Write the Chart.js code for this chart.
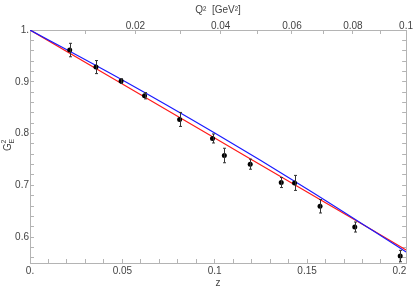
<!DOCTYPE html>
<html>
<head>
<meta charset="utf-8">
<script src="https://cdn.jsdelivr.net/npm/chart.js@4"></script>
<style>
  html, body { margin: 0; padding: 0; background: #fff; }
  #wrap { width: 415px; height: 290px; }
</style>
</head>
<body>
<div id="wrap"><canvas id="chart" width="415" height="290"></canvas></div>
<script>
// measured points (z, G_E^2, error)
const zVals = [0.0215, 0.0357, 0.0493, 0.062, 0.081, 0.0988, 0.1052, 0.1192, 0.136, 0.1432, 0.157, 0.1758, 0.2004];
const gVals = [0.9613, 0.9284, 0.9014, 0.873, 0.8273, 0.7905, 0.7576, 0.7408, 0.7054, 0.7047, 0.6596, 0.6195, 0.5634];
const gErr = [0.013, 0.0126, 0.0045, 0.006, 0.0135, 0.0087, 0.014, 0.0097, 0.0097, 0.0145, 0.013, 0.0097, 0.011];

// fit curves
const fitZ = [0, 0.05, 0.1, 0.15, 0.2036];
const blueFit = [1, 0.9033, 0.8009, 0.6931, 0.5714];
const redFit = [1, 0.8957, 0.7914, 0.6871, 0.5753];

// axes
const xMajor = [0, 0.05, 0.1, 0.15, 0.2];
const xLabels = ["0.", "0.05", "0.1", "0.15", "0.2"];
const xMinorStep = 0.01;
const yMajor = [0.6, 0.7, 0.8, 0.9, 1.0];
const yLabels = ["0.6", "0.7", "0.8", "0.9", "1."];
const yMinorStep = 0.02;
const q2Ticks = [0.01, 0.02, 0.03, 0.04, 0.05, 0.06, 0.07, 0.08, 0.09, 0.1];
const q2Labels = ["", "0.02", "", "0.04", "", "0.06", "", "0.08", "", "0.1"];

const X_MIN = 0, X_MAX = 0.2036;
const Y_MIN = 0.55, Y_MAX = 1.0;
const T_CUT = 0.0779; // 4 m_pi^2, for the Q^2 -> z mapping of the top axis

function zOf(q2) {
  const a = Math.sqrt(T_CUT + q2), b = Math.sqrt(T_CUT);
  return (a - b) / (a + b);
}

function stepTicks(min, max, step) {
  const out = [];
  for (let i = Math.ceil(min / step - 1e-6); i * step <= max + 1e-9; i++) {
    out.push(+(i * step).toFixed(4));
  }
  return out;
}

function labelFor(value, majors, labels) {
  const i = majors.findIndex(m => Math.abs(m - value) < 1e-6);
  return i >= 0 ? labels[i] : "";
}

const frame = "#b4b4b4";
const textColor = "#444";
const font = { family: "Liberation Sans", size: 10 };

const errorBars = {
  id: "errorBars",
  afterDatasetsDraw(chart) {
    const { ctx, scales } = chart;
    ctx.save();
    ctx.strokeStyle = "#333";
    ctx.lineWidth = 1;
    zVals.forEach((z, i) => {
      const px = Math.round(scales.x.getPixelForValue(z)) + 0.5;
      const top = scales.y.getPixelForValue(gVals[i] + gErr[i]);
      const bot = scales.y.getPixelForValue(gVals[i] - gErr[i]);
      ctx.beginPath();
      ctx.moveTo(px, top); ctx.lineTo(px, bot);
      ctx.moveTo(px - 1.5, top); ctx.lineTo(px + 1.5, top);
      ctx.moveTo(px - 1.5, bot); ctx.lineTo(px + 1.5, bot);
      ctx.stroke();
    });
    ctx.restore();
  }
};

const yTitle = {
  id: "yTitle",
  afterDraw(chart) {
    const ctx = chart.ctx;
    ctx.save();
    ctx.translate(8, 146);
    ctx.rotate(-Math.PI / 2);
    ctx.fillStyle = textColor;
    ctx.textBaseline = "middle";
    ctx.font = "10px 'Liberation Sans'";
    ctx.fillText("G", -5, 0);
    ctx.font = "7px 'Liberation Sans'";
    ctx.fillText("2", 2.5, -4);
    ctx.fillText("E", 2.5, 4);
    ctx.restore();
  }
};

new Chart(document.getElementById("chart"), {
  type: "scatter",
  data: {
    datasets: [
      {
        label: "data",
        data: zVals.map((z, i) => ({ x: z, y: gVals[i] })),
        pointRadius: 2.5,
        pointBackgroundColor: "#000",
        pointBorderColor: "#000",
        pointBorderWidth: 0,
        showLine: false
      },
      {
        label: "blue fit",
        data: fitZ.map((z, i) => ({ x: z, y: blueFit[i] })),
        showLine: true,
        borderColor: "#1a1aff",
        borderWidth: 1.2,
        pointRadius: 0,
        cubicInterpolationMode: "monotone"
      },
      {
        label: "red fit",
        data: fitZ.map((z, i) => ({ x: z, y: redFit[i] })),
        showLine: true,
        borderColor: "#ff1a1a",
        borderWidth: 1.2,
        pointRadius: 0,
        cubicInterpolationMode: "monotone"
      }
    ]
  },
  options: {
    responsive: false,
    animation: false,
    layout: { padding: { top: 4, left: 0, right: 0, bottom: 0 } },
    plugins: {
      legend: { display: false },
      tooltip: { enabled: false }
    },
    scales: {
      x: {
        type: "linear",
        position: "bottom",
        min: X_MIN,
        max: X_MAX,
        afterBuildTicks: s => { s.ticks = stepTicks(X_MIN, 0.2, xMinorStep).map(v => ({ value: v })); },
        afterFit: s => { s.height = 27; },
        grid: { drawOnChartArea: false, tickLength: -4, tickColor: frame },
        border: { color: frame },
        ticks: {
          color: textColor, font, padding: 6, maxRotation: 0, autoSkip: false,
          callback: v => labelFor(v, xMajor, xLabels)
        },
        title: { display: true, text: "z", color: textColor, font, padding: { top: 0, bottom: 1 } }
      },
      x2: {
        type: "linear",
        position: "top",
        min: X_MIN,
        max: X_MAX,
        afterBuildTicks: s => { s.ticks = q2Ticks.map(q => ({ value: zOf(q) })); },
        afterFit: s => { s.height = 26; },
        grid: { drawOnChartArea: false, tickLength: -4, tickColor: frame },
        border: { color: frame },
        ticks: {
          color: textColor, font, padding: 2, maxRotation: 0, autoSkip: false,
          callback: (v, i) => q2Labels[i]
        },
        title: { display: true, text: "Q\u00b2  [GeV\u00b2]", color: textColor, font, padding: 0 }
      },
      y: {
        type: "linear",
        position: "left",
        min: Y_MIN,
        max: Y_MAX,
        afterBuildTicks: s => { s.ticks = stepTicks(0.56, Y_MAX, yMinorStep).map(v => ({ value: v })); },
        afterFit: s => { s.width = 30; },
        grid: { drawOnChartArea: false, tickLength: -4, tickColor: frame },
        border: { color: frame },
        ticks: {
          color: textColor, font, padding: 5, autoSkip: false,
          callback: v => labelFor(v, yMajor, yLabels)
        }
      },
      y2: {
        type: "linear",
        position: "right",
        min: Y_MIN,
        max: Y_MAX,
        afterBuildTicks: s => { s.ticks = stepTicks(0.56, Y_MAX, yMinorStep).map(v => ({ value: v })); },
        afterFit: s => { s.width = 7; },
        grid: { drawOnChartArea: false, tickLength: -4, tickColor: frame },
        border: { color: frame },
        ticks: { display: false }
      }
    }
  },
  plugins: [errorBars, yTitle]
});
</script>
</body>
</html>
